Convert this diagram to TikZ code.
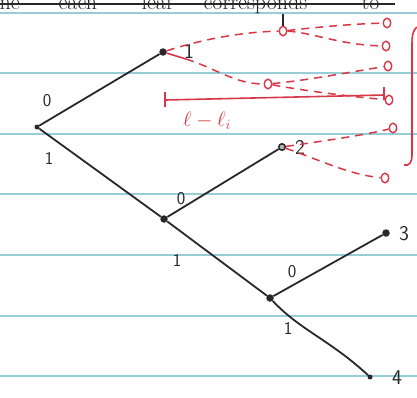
\documentclass[tikz,border=0pt]{standalone}
\definecolor{rule}{RGB}{150,205,215}
\definecolor{ink}{RGB}{40,40,40}
\definecolor{pen}{RGB}{215,55,70}
\tikzset{
  edge/.style={ink, line width=1.8pt},
  dotnode/.style={circle, fill=ink, inner sep=0pt, minimum size=7.5pt},
  smalldot/.style={circle, fill=ink, inner sep=0pt, minimum size=5pt},
  opennode/.style={circle, draw=ink, fill=ink!35, line width=1.5pt, inner sep=0pt, minimum size=6.5pt},
  leafc/.style={ellipse, draw=pen, line width=1.4pt, inner sep=0pt, minimum width=7.5pt, minimum height=9.5pt},
  reddash/.style={pen, line width=1.5pt, dash pattern=on 8pt off 6pt},
  redline/.style={pen, line width=1.6pt},
  lab/.style={font=\sffamily\fontsize{18}{20}\selectfont, ink},
  nlab/.style={font=\sffamily\fontsize{21}{24}\selectfont, ink},
  topword/.style={anchor=base west, font=\fontsize{22}{24}\selectfont, ink}
}
\usetikzlibrary{shapes.geometric}
\begin{document}
\begin{tikzpicture}[x=1pt,y=-1pt]
\useasboundingbox (0,0) rectangle (417,397);
\fill[white] (0,0) rectangle (417,397);
\clip (0,0) rectangle (417,397);
% ruled lines
\foreach \yy in {13,73,134,194,255,316,376}
  \draw[rule, line width=1.4pt] (0,\yy) -- (417,\yy);
% crossed-out heading (cut off at top)
\node[topword] (w1) at (-4,9) {ne};
\node[topword] (w2) at (55,9) {each};
\node[topword] (w3) at (138,9) {leaf};
\node[topword] (w4) at (200,9) {corresponds};
\node[topword] (w5) at (358,9) {to};
\draw[ink, line width=1.5pt] (0,4) -- (395,4);
% tree nodes
\node[smalldot] (r) at (37,127) {};
\node[dotnode] (n1) at (163,52) {};
\node[dotnode] (m) at (164,219) {};
\node[opennode] (n2) at (282,147) {};
\node[dotnode] (lo) at (270,298) {};
\node[dotnode] (n3) at (386,233) {};
\node[smalldot] (n4) at (370,377) {};
% tree edges
\draw[edge] (r) -- (n1);
\draw[edge] (r) -- (m);
\draw[edge] (m) -- (n2);
\draw[edge] (m) -- (lo);
\draw[edge] (lo) -- (n3);
\draw[edge] (lo) .. controls (300,330) and (330,340) .. (n4);
% edge labels
\node[lab] (e1) at (47,101) {0};
\node[lab] (e2) at (49,158) {1};
\node[lab] (e3) at (181,199) {0};
\node[lab] (e4) at (177,260) {1};
\node[lab] (e5) at (292,272) {0};
\node[lab] (e6) at (288,328) {1};
% node labels
\node[nlab] (l1) at (189,51) {1};
\node[nlab] (l2) at (300,147) {2};
\node[nlab] (l3) at (404,234) {3};
\node[nlab] (l4) at (397,378) {4};
% red extension
\node[leafc] (c1) at (283,31) {};
\node[leafc] (c2) at (268,84) {};
\node[leafc] (t1) at (387,23) {};
\node[leafc] (t2) at (386,46) {};
\node[leafc] (t3) at (388,66) {};
\node[leafc] (t4) at (389,100) {};
\node[leafc] (t5) at (393,128) {};
\node[leafc] (t6) at (385,178) {};
\draw[ink, line width=1.5pt] (283,14) -- (c1.north);
\draw[reddash] (n1) .. controls (200,40) and (240,32) .. (c1);
\draw[reddash] (c1) .. controls (320,27) and (350,24) .. (t1);
\draw[reddash] (c1) .. controls (310,32) and (340,45) .. (t2);
\coordinate (s1) at (186,59);
\draw[redline] (n1) -- (s1);
\draw[reddash] (s1) .. controls (215,68) and (235,84) .. (c2);
\draw[reddash] (c2) .. controls (310,80) and (350,72) .. (t3);
\draw[reddash] (c2) .. controls (300,90) and (345,96) .. (t4);
\draw[reddash] (n2) .. controls (330,140) and (365,135) .. (t5);
\draw[reddash] (n2) .. controls (320,160) and (350,175) .. (t6);
% measuring bar
\coordinate (b1) at (165,100);
\coordinate (b2) at (384,95);
\draw[redline] (b1) -- (b2);
\draw[redline] (165,92) -- (165,107);
\draw[redline] (384,87) -- (384,100);
\node[pen, font=\fontsize{21}{22}\selectfont] (lab) at (207,121) {$\ell-\ell_{i}$};
% bracket
\draw[redline] (417,27) .. controls (413,30) and (412,35) .. (412,45) -- (412,155) .. controls (412,163) and (409,166) .. (404,165);
\end{tikzpicture}
\end{document}
